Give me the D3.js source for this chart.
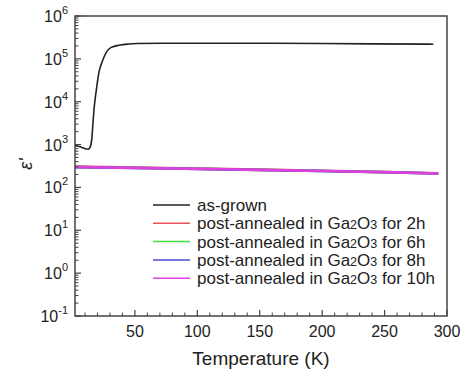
<!DOCTYPE html>
<html><head><meta charset="utf-8">
<script src="https://cdn.jsdelivr.net/npm/d3@7"></script>
<style>body{margin:0;background:#fff}svg{display:block}text{font-family:Arial,"Liberation Sans",sans-serif;fill:#222}</style>
</head><body><svg id="c" width="473" height="372"></svg>
<script>
// Data
const asGrownT = [2, 4, 7, 10, 12.7, 14, 15.4, 16.5, 17.2, 18.5, 19.4, 21.2, 23.4, 25.5, 27.4, 31, 38, 45, 51.4, 80, 120, 160, 200, 240, 289];
const asGrownE = [950, 930, 870, 800, 780, 850, 1300, 3500, 6500, 14000, 22000, 49000, 80000, 115000, 148000, 185000, 210000, 222000, 228000, 232000, 232000, 231000, 228000, 224000, 220000];
const annealT = [2, 50, 100, 150, 200, 250, 293];
const anneal2h = [305, 290, 275, 260, 245, 230, 215];
const anneal6h = [300, 287, 272, 257, 242, 227, 212];
const anneal8h = [298, 285, 270, 256, 241, 226, 211];
const anneal10h = [300, 286, 271, 257, 242, 227, 212];
const seriesNames = ["as-grown", "2h", "6h", "8h", "10h"];
const seriesColors = ["#222222", "#e8545a", "#46e046", "#4a4ad8", "#e040e0"];
const xTicks = [50, 100, 150, 200, 250, 300];
const yExps = [-1, 0, 1, 2, 3, 4, 5, 6];

const svg = d3.select("#c");
const L = 75, R = 447, T = 16, B = 316;
const x = d3.scaleLinear().domain([2, 300]).range([L, R]);
const y = d3.scaleLog().domain([0.1, 1e6]).range([B, T]);

// plot series
const line = d3.line().x(d => x(d[0])).y(d => y(d[1])).curve(d3.curveMonotoneX);
const annealSets = [anneal2h, anneal6h, anneal8h, anneal10h];
annealSets.forEach((vals, i) => {
  svg.append("path").datum(annealT.map((t, j) => [t, vals[j]]))
    .attr("d", line).attr("fill", "none").attr("stroke", seriesColors[i + 1]).attr("stroke-width", 2.6);
});
svg.append("path").datum(asGrownT.map((t, j) => [t, asGrownE[j]]))
  .attr("d", line).attr("fill", "none").attr("stroke", seriesColors[0]).attr("stroke-width", 1.6);

// frame
svg.append("rect").attr("x", L).attr("y", T).attr("width", R - L).attr("height", B - T)
  .attr("fill", "none").attr("stroke", "#444").attr("stroke-width", 1.5);

// x axis ticks (inward)
const xMinor = d3.range(10, 300, 10).filter(v => v % 50 !== 0);
const gx = svg.append("g");
gx.selectAll("line.xmj").data(xTicks).join("line").attr("class", "xmj")
  .attr("x1", d => x(d)).attr("x2", d => x(d))
  .attr("y1", B).attr("y2", B - 6).attr("stroke", "#444").attr("stroke-width", 1.2);
gx.selectAll("line.xmn").data(xMinor).join("line").attr("class", "xmn")
  .attr("x1", d => x(d)).attr("x2", d => x(d))
  .attr("y1", B).attr("y2", B - 3.5).attr("stroke", "#444").attr("stroke-width", 1);
gx.selectAll("text").data(xTicks).join("text").attr("x", d => x(d)).attr("y", B + 21)
  .attr("text-anchor", "middle").attr("font-size", 16).text(d => d);

// y axis ticks (inward)
const gy = svg.append("g");
gy.selectAll("line.ymj").data(yExps).join("line").attr("class", "ymj")
  .attr("y1", d => y(Math.pow(10, d))).attr("y2", d => y(Math.pow(10, d)))
  .attr("x1", L).attr("x2", L + 6).attr("stroke", "#444").attr("stroke-width", 1.2);
const yMinor = [];
for (let e = -1; e < 6; e++) for (let m = 2; m <= 9; m++) yMinor.push(m * Math.pow(10, e));
gy.selectAll("line.ymn").data(yMinor).join("line").attr("class", "ymn")
  .attr("y1", d => y(d)).attr("y2", d => y(d))
  .attr("x1", L).attr("x2", L + 3.5).attr("stroke", "#444").attr("stroke-width", 1);
const yl = gy.selectAll("text").data(yExps).join("text").attr("x", L - 7).attr("y", d => y(Math.pow(10, d)) + 6)
  .attr("text-anchor", "end").attr("font-size", 16);
yl.append("tspan").text("10");
yl.append("tspan").attr("dy", -8).attr("font-size", 11).text(d => d);

// axis titles
svg.append("text").attr("x", 261).attr("y", 365).attr("text-anchor", "middle")
  .attr("font-size", 19).text("Temperature (K)");
svg.append("text").attr("transform", "translate(32,164) rotate(-90)").attr("text-anchor", "middle")
  .attr("font-size", 18).attr("font-style", "italic").attr("font-family", "'DejaVu Serif',serif").text("ε'");

// legend
const lg = svg.append("g");
seriesNames.forEach((n, i) => {
  const yy = 205 + i * 18.3;
  lg.append("line").attr("x1", 153).attr("x2", 190).attr("y1", yy).attr("y2", yy)
    .attr("stroke", seriesColors[i]).attr("stroke-width", 1.5);
  const t = lg.append("text").attr("x", 197).attr("y", yy + 6).attr("font-size", 17);
  if (i === 0) { t.text(n); }
  else {
    t.append("tspan").text("post-annealed in Ga");
    t.append("tspan").attr("font-size", 12.5).text("2");
    t.append("tspan").text("O");
    t.append("tspan").attr("font-size", 12.5).text("3");
    t.append("tspan").text(" for " + n);
  }
});
</script></body></html>
